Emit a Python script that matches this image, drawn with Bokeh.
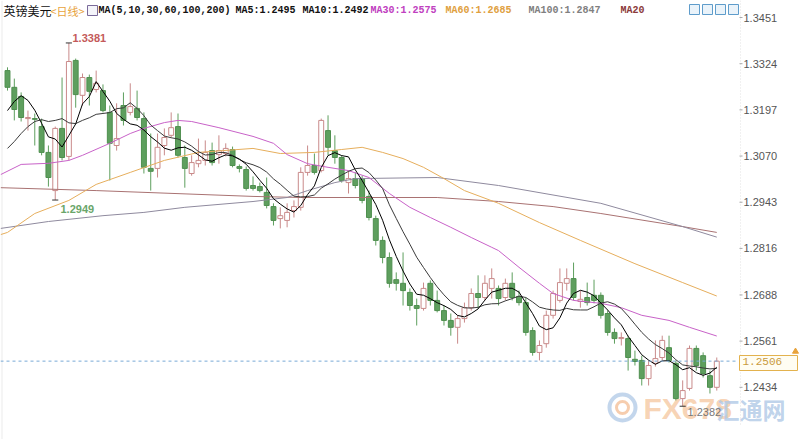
import pandas as pd
from bokeh.plotting import figure
from bokeh.models import Range1d
from bokeh.core.properties import value
from bokeh.embed import file_html
from bokeh.resources import INLINE

# ---------------- data (GBP/USD daily) ----------------
opens = [1.3305, 1.3259, 1.3234, 1.3173, 1.3173, 1.3151, 1.3080, 1.2975, 1.3146, 1.3069,
         1.3333, 1.3237, 1.3286, 1.3253, 1.3250, 1.3190, 1.3099, 1.3209, 1.3190, 1.3201,
         1.3173, 1.3036, 1.3036, 1.3099, 1.3127, 1.3151, 1.3066, 1.3022, 1.3049, 1.3058,
         1.3085, 1.3074, 1.3077, 1.3088, 1.3041, 1.3033, 1.2989, 1.2986, 1.2970, 1.2931,
         1.2898, 1.2893, 1.2920, 1.2929, 1.3025, 1.3044, 1.3030, 1.3140, 1.3085, 1.3066,
         1.2997, 1.3008, 1.3008, 1.2959, 1.2898, 1.2838, 1.2791, 1.2730, 1.2720, 1.2695,
         1.2659, 1.2651, 1.2720, 1.2673, 1.2645, 1.2618, 1.2599, 1.2623, 1.2653, 1.2692,
         1.2681, 1.2706, 1.2706, 1.2681, 1.2720, 1.2684, 1.2667, 1.2590, 1.2530, 1.2554,
         1.2632, 1.2673, 1.2720, 1.2733, 1.2670, 1.2681, 1.2687, 1.2687, 1.2637, 1.2585,
         1.2568, 1.2568, 1.2511, 1.2508, 1.2458, 1.2500, 1.2516, 1.2543, 1.2500, 1.2403,
         1.2431, 1.2541, 1.2521, 1.2466, 1.2434]
highs = [1.3314, 1.3283, 1.3245, 1.3195, 1.3187, 1.3173, 1.3099, 1.3151, 1.3286, 1.3381,
         1.3338, 1.3297, 1.3294, 1.3305, 1.3267, 1.3209, 1.3215, 1.3245, 1.3270, 1.3250,
         1.3190, 1.3132, 1.3132, 1.3146, 1.3190, 1.3187, 1.3099, 1.3072, 1.3118, 1.3113,
         1.3107, 1.3127, 1.3105, 1.3096, 1.3047, 1.3041, 1.3014, 1.2997, 1.3011, 1.2940,
         1.2929, 1.2940, 1.2948, 1.3039, 1.3099, 1.3077, 1.3173, 1.3182, 1.3127, 1.3072,
         1.3030, 1.3025, 1.3016, 1.2975, 1.2906, 1.2849, 1.2805, 1.2750, 1.2805, 1.2706,
         1.2678, 1.2722, 1.2728, 1.2700, 1.2659, 1.2637, 1.2632, 1.2667, 1.2706, 1.2742,
         1.2742, 1.2761, 1.2714, 1.2733, 1.2750, 1.2700, 1.2681, 1.2599, 1.2563, 1.2645,
         1.2700, 1.2761, 1.2761, 1.2777, 1.2700, 1.2722, 1.2730, 1.2695, 1.2645, 1.2596,
         1.2585, 1.2576, 1.2535, 1.2521, 1.2508, 1.2563, 1.2576, 1.2576, 1.2508, 1.2453,
         1.2549, 1.2549, 1.2530, 1.2480, 1.2516]
lows = [1.3250, 1.3168, 1.3165, 1.3140, 1.3099, 1.3072, 1.2986, 1.2949, 1.3058, 1.3058,
        1.3203, 1.3209, 1.3209, 1.3245, 1.3190, 1.3003, 1.3085, 1.3154, 1.3182, 1.3168,
        1.3022, 1.2975, 1.3011, 1.3072, 1.3121, 1.3066, 1.2983, 1.3016, 1.3039, 1.3044,
        1.3044, 1.3049, 1.3069, 1.3039, 1.3025, 1.2975, 1.2975, 1.2970, 1.2926, 1.2879,
        1.2871, 1.2874, 1.2901, 1.2920, 1.3016, 1.3019, 1.3025, 1.3072, 1.3049, 1.2997,
        1.2967, 1.2981, 1.2940, 1.2893, 1.2824, 1.2775, 1.2708, 1.2700, 1.2659, 1.2645,
        1.2604, 1.2645, 1.2659, 1.2640, 1.2604, 1.2576, 1.2554, 1.2612, 1.2645, 1.2651,
        1.2673, 1.2678, 1.2659, 1.2673, 1.2673, 1.2659, 1.2576, 1.2521, 1.2508, 1.2543,
        1.2623, 1.2667, 1.2700, 1.2673, 1.2653, 1.2659, 1.2665, 1.2623, 1.2576, 1.2554,
        1.2549, 1.2480, 1.2494, 1.2439, 1.2439, 1.2491, 1.2508, 1.2502, 1.2398, 1.2382,
        1.2425, 1.2480, 1.2461, 1.2417, 1.2425]
closes = [1.3259, 1.3198, 1.3176, 1.3176, 1.3171, 1.3080, 1.3011, 1.3146, 1.3066, 1.3330,
          1.3239, 1.3286, 1.3248, 1.3270, 1.3195, 1.3105, 1.3118, 1.3168, 1.3206, 1.3176,
          1.3039, 1.3028, 1.3094, 1.3121, 1.3148, 1.3072, 1.3036, 1.3052, 1.3058, 1.3080,
          1.3052, 1.3085, 1.3091, 1.3044, 1.3036, 1.2981, 1.2981, 1.2975, 1.2934, 1.2893,
          1.2906, 1.2915, 1.2931, 1.3025, 1.3044, 1.3025, 1.3168, 1.3094, 1.3066, 1.3003,
          1.3008, 1.2989, 1.2948, 1.2901, 1.2838, 1.2791, 1.2720, 1.2720, 1.2700, 1.2659,
          1.2651, 1.2706, 1.2673, 1.2645, 1.2618, 1.2599, 1.2623, 1.2653, 1.2692, 1.2681,
          1.2720, 1.2733, 1.2678, 1.2720, 1.2681, 1.2667, 1.2585, 1.2530, 1.2549, 1.2632,
          1.2692, 1.2722, 1.2733, 1.2681, 1.2676, 1.2667, 1.2673, 1.2632, 1.2585, 1.2568,
          1.2571, 1.2516, 1.2505, 1.2458, 1.2494, 1.2513, 1.2563, 1.2508, 1.2403, 1.2425,
          1.2541, 1.2494, 1.2472, 1.2434, 1.2506]

ma5_lead = [1.3195, 1.3220, 1.3236, 1.3223]
ma10_lead = [1.3091, 1.3110, 1.3132, 1.3151, 1.3165, 1.3170, 1.3165, 1.3168, 1.3173]

# longer moving averages (candle index, price)
ma30_idx = [-1, 2, 6, 9, 11, 15, 18, 20, 23, 25, 27, 31, 36, 39, 41, 44, 47, 50, 53, 56,
            59, 62, 65, 68, 71, 72, 75, 78, 80, 83, 87, 90, 93, 97, 100, 104]
ma30_val = [1.3019, 1.3047, 1.3050, 1.3058, 1.3072, 1.3105, 1.3132, 1.3146, 1.3162, 1.3168,
            1.3165, 1.3148, 1.3124, 1.3105, 1.3074, 1.3049, 1.3039, 1.3030, 1.3011, 1.2967,
            1.2929, 1.2901, 1.2874, 1.2846, 1.2819, 1.2810, 1.2764, 1.2720, 1.2692, 1.2673,
            1.2665, 1.2653, 1.2632, 1.2618, 1.2599, 1.2575]
ma60_idx = [-1, 0, 4, 9, 13, 18, 23, 28, 36, 40, 45, 49, 52, 55, 58, 61, 64, 67, 72, 78,
            84, 92, 99, 104]
ma60_val = [1.2854, 1.2860, 1.2912, 1.2948, 1.2992, 1.3025, 1.3058, 1.3080, 1.3091, 1.3077,
            1.3080, 1.3088, 1.3094, 1.3080, 1.3063, 1.3039, 1.3008, 1.2975, 1.2940, 1.2887,
            1.2838, 1.2774, 1.2722, 1.2685]
ma100_idx = [-1, 6, 14, 20, 26, 36, 41, 44, 48, 51, 63, 72, 87, 99, 104]
ma100_val = [1.2871, 1.2890, 1.2906, 1.2915, 1.2929, 1.2945, 1.2956, 1.2975, 1.2997, 1.3008,
             1.3011, 1.2989, 1.2940, 1.2876, 1.2847]
ma200_idx = [-1, 13, 36, 43, 63, 72, 80, 87, 99, 104]
ma200_val = [1.2983, 1.2975, 1.2959, 1.2956, 1.2956, 1.2945, 1.2931, 1.2912, 1.2876, 1.2860]

axis_ticks = [1.3451, 1.3324, 1.3197, 1.3070, 1.2943, 1.2816, 1.2688, 1.2561, 1.2434]
last_price = 1.2506
high_idx, high_val = 9, 1.3381
low1_idx, low1_val = 7, 1.2949
low2_idx, low2_val = 99, 1.2382

# ---------------- layout helpers (reference pixels -> data) ----------------
STEP = 6.82
X0 = 7.0
PX = 0.000275
W, H = 800, 439


def rx(px):
    return (px - X0) / STEP


def ry(py):
    return axis_ticks[0] - (py - 17) * PX


n = len(closes)
idx = list(range(n))

s = pd.Series(closes)
ma5 = s.rolling(5).mean().tolist()
ma10 = s.rolling(10).mean().tolist()
ma5[:len(ma5_lead)] = ma5_lead
ma10[:len(ma10_lead)] = ma10_lead

GREEN = "#5E9F5E"
GREEN_LINE = "#4F8F4F"
PINK = "#C98A8A"

p = figure(width=W, height=H, x_range=Range1d(rx(0), rx(W)),
           y_range=Range1d(ry(H), ry(0)), output_backend="svg",
           toolbar_location=None, x_axis_location=None, y_axis_location=None,
           min_border=0, outline_line_color=None, background_fill_color="white")
p.grid.visible = False

# frame separators
p.segment(x0=[rx(740)], y0=[ry(0)], x1=[rx(740)], y1=[ry(425)],
          line_color="#E2E2E2", line_dash="1 2", line_width=1)
p.segment(x0=[rx(1.5)], y0=[ry(0)], x1=[rx(1.5)], y1=[ry(439)],
          line_color="#EBEBEB", line_width=1)

# watermark
p.scatter(x=[rx(622)], y=[ry(407)], marker="circle", size=26, fill_color=None,
          line_color="#AFC8E6", line_width=4, alpha=0.75)
p.scatter(x=[rx(622)], y=[ry(407)], marker="circle", size=12, fill_color=None,
          line_color="#F4C4A0", line_width=3, alpha=0.85)
p.text(x=[rx(643)], y=[ry(408)], text=["FX678"], text_font=value("Liberation Sans"),
       text_font_size="30px", text_font_style="bold", text_color="#F6C8A2",
       text_alpha=0.8, text_align="left", text_baseline="middle")
p.text(x=[rx(716)], y=[ry(408)], text=["汇通网"], text_font=value("Noto Sans CJK SC"),
       text_font_size="23px", text_font_style="bold", text_color="#AFC8E6",
       text_alpha=0.8, text_align="left", text_baseline="middle")

# candles
up = [c >= o for o, c in zip(opens, closes)]
col = [PINK if u else GREEN for u in up]
p.segment(x0=idx, y0=lows, x1=idx, y1=highs, line_color=col, line_width=1)
up_i = [i for i in idx if up[i]]
dn_i = [i for i in idx if not up[i]]
p.vbar(x=dn_i, width=0.72, top=[opens[i] for i in dn_i], bottom=[closes[i] for i in dn_i],
       fill_color=GREEN, line_color=GREEN_LINE, line_width=1)
p.vbar(x=up_i, width=0.72, top=[closes[i] for i in up_i], bottom=[opens[i] for i in up_i],
       fill_color="white", line_color=PINK, line_width=1)

# moving averages
p.line(ma200_idx, ma200_val, line_color="#A97272", line_width=1)
p.line(ma100_idx, ma100_val, line_color="#8F8A9E", line_width=1)
p.line(ma60_idx, ma60_val, line_color="#E6AE5C", line_width=1)
p.line(ma30_idx, ma30_val, line_color="#C862C8", line_width=1)
p.line(idx, ma10, line_color="#3A3A3A", line_width=1)
p.line(idx, ma5, line_color="#000000", line_width=1)

# last price line and box
p.segment(x0=[rx(0)], y0=[last_price], x1=[rx(738)], y1=[last_price],
          line_color="#78AAD6", line_dash="3 3", line_width=1)
p.quad(left=[rx(739)], right=[rx(797)], top=[ry(355)], bottom=[ry(370)],
       fill_color="#FFFDF2", line_color="#E3B24E", line_width=1)
p.text(x=[rx(742)], y=[last_price], text=["%.4f" % last_price],
       text_font=value("Liberation Mono"), text_font_size="11px", text_color="#C99A3C",
       text_align="left", text_baseline="middle")
p.scatter(x=[rx(795)], y=[ry(351)], marker="triangle", size=6,
          fill_color="#E8A33C", line_color="#E8A33C")

# right axis labels
p.segment(x0=[rx(739)] * len(axis_ticks), y0=axis_ticks, x1=[rx(742)] * len(axis_ticks),
          y1=axis_ticks, line_color="#AAAAAA", line_width=1)
p.text(x=[rx(743)] * len(axis_ticks), y=axis_ticks, text=["%.4f" % t for t in axis_ticks],
       text_font=value("Liberation Sans"), text_font_size="11px", text_color="#555555",
       text_align="left", text_baseline="middle")

# high / low marks
for i_, v_ in [(high_idx, high_val), (low1_idx, low1_val), (low2_idx, low2_val)]:
    p.segment(x0=[i_ - 0.45], y0=[v_], x1=[i_ + 0.45], y1=[v_], line_color="#333333",
              line_width=1)
p.text(x=[rx(72)], y=[ry(37)], text=["%.4f" % high_val], text_font=value("Liberation Sans"),
       text_font_size="11px", text_font_style="bold", text_color="#C45A5A",
       text_align="left", text_baseline="middle")
p.text(x=[rx(60)], y=[ry(208)], text=["%.4f" % low1_val], text_font=value("Liberation Sans"),
       text_font_size="11px", text_font_style="bold", text_color="#6AA66A",
       text_align="left", text_baseline="middle")
p.text(x=[rx(687)], y=[ry(411)], text=["%.4f" % low2_val], text_font=value("Liberation Sans"),
       text_font_size="11px", text_color="#777777",
       text_align="left", text_baseline="middle")

# top legend
legend_y = ry(10)
p.text(x=[rx(3)], y=[legend_y], text=["英镑美元"], text_font=value("Noto Sans CJK SC"),
       text_font_size="12px", text_color="#111111", text_align="left",
       text_baseline="middle")
p.text(x=[rx(50)], y=[legend_y], text=["<日线>"], text_font=value("Noto Sans CJK SC"),
       text_font_size="11px", text_color="#E8A33C", text_align="left",
       text_baseline="middle")
p.quad(left=[rx(87)], right=[rx(97)], top=[ry(5)], bottom=[ry(15)],
       fill_color="#F4F4FA", line_color="#7A6A9A", line_width=1)
legend_items = [
    (98, "MA(5,10,30,60,100,200)", "#111111"),
    (235, "MA5:1.2495", "#111111"),
    (302, "MA10:1.2492", "#111111"),
    (370, "MA30:1.2575", "#C040C0"),
    (445, "MA60:1.2685", "#E0A040"),
    (528, "MA100:1.2847", "#808080"),
    (620, "MA20", "#8B3A3A"),
]
for lx, lt, lc in legend_items:
    p.text(x=[rx(lx)], y=[legend_y], text=[lt], text_font=value("Liberation Mono"),
           text_font_size="10px", text_font_style="bold", text_color=lc,
           text_align="left", text_baseline="middle")

# toolbar icons
for cx in [694, 707, 720, 733]:
    p.quad(left=[rx(cx - 5)], right=[rx(cx + 5)], top=[ry(4)], bottom=[ry(14)],
           fill_color="#EAF3FA", line_color="#5E9CCB", line_width=1)

open("out.html", "w").write(file_html(p, INLINE))
